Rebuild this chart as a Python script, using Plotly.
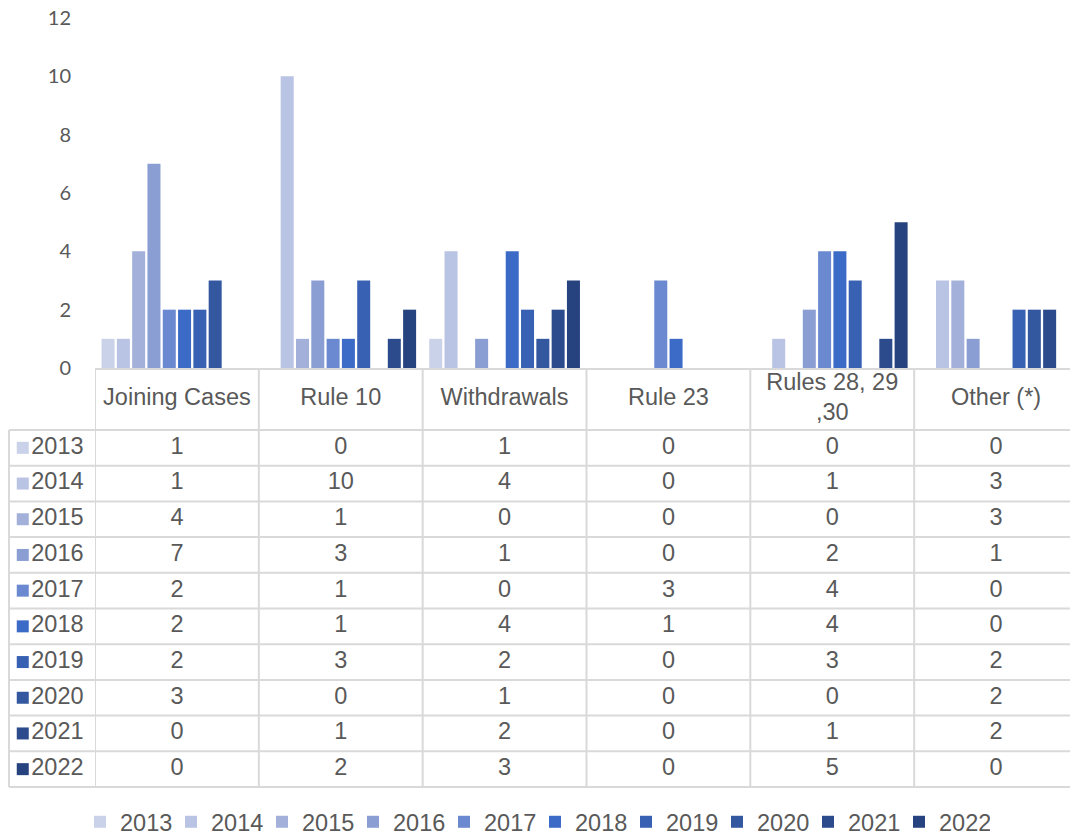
import plotly.graph_objects as go

categories = ["Joining Cases", "Rule 10", "Withdrawals", "Rule 23", "Rules 28, 29 ,30", "Other (*)"]
header_labels = ["Joining Cases", "Rule 10", "Withdrawals", "Rule 23", "Rules 28, 29<br>,30", "Other (*)"]
years = ["2013", "2014", "2015", "2016", "2017", "2018", "2019", "2020", "2021", "2022"]

v2013 = [1, 0, 1, 0, 0, 0]
v2014 = [1, 10, 4, 0, 1, 3]
v2015 = [4, 1, 0, 0, 0, 3]
v2016 = [7, 3, 1, 0, 2, 1]
v2017 = [2, 1, 0, 3, 4, 0]
v2018 = [2, 1, 4, 1, 4, 0]
v2019 = [2, 3, 2, 0, 3, 2]
v2020 = [3, 0, 1, 0, 0, 2]
v2021 = [0, 1, 2, 0, 1, 2]
v2022 = [0, 2, 3, 0, 5, 0]
series = [v2013, v2014, v2015, v2016, v2017, v2018, v2019, v2020, v2021, v2022]

colors = ["#cad2ea", "#b9c3e3", "#a3b1da", "#8a9ed4", "#6a89d0",
          "#3c6bc7", "#3961b3", "#34589f", "#2c4b8c", "#27437f"]

# the page body adds an 8px margin, so the figure is drawn 8px in from the corner
OFF = 8
W, H = 1078 - OFF, 837 - OFF
TXT = "#595959"
GRID = "#d9d9d9"
FONT = "Liberation Sans, Arial, sans-serif"
FS = 23.5

def py(p):
    return 1 - (p - OFF) / H

def px(p):
    return (p - OFF) / W

plot_top, plot_bot = 18, 368
tab_top, row0_top, row_h = 368, 430, 35.7
tab_bot_dom = 795
col_left, col_split = 9, 95

hdr_units = (row0_top - tab_top) / row_h
y2_top = -0.5 - hdr_units
y2_bot = (tab_bot_dom - row0_top) / row_h - 0.5
hdr_y = -0.5 - hdr_units / 2

fig = go.Figure()

for yr, vals, c in zip(years, series, colors):
    fig.add_trace(go.Bar(
        x=categories, y=vals, name=yr, marker=dict(color=c, line=dict(width=0)),
        xaxis="x", yaxis="y", showlegend=True,
    ))

fig.add_trace(go.Scatter(
    x=categories, y=[hdr_y] * len(categories), text=header_labels, mode="text",
    textposition="middle center", textfont=dict(size=FS, color=TXT, family=FONT),
    xaxis="x", yaxis="y2", showlegend=False, hoverinfo="skip",
))

for i, (yr, vals) in enumerate(zip(years, series)):
    fig.add_trace(go.Scatter(
        x=categories, y=[i] * len(categories), text=[str(v) for v in vals], mode="text",
        textposition="middle center", textfont=dict(size=FS, color=TXT, family=FONT),
        xaxis="x", yaxis="y2", showlegend=False, hoverinfo="skip",
    ))

fig.add_trace(go.Scatter(
    x=[0.16] * len(years), y=list(range(len(years))), text=years,
    mode="markers+text", textposition="middle right",
    marker=dict(symbol="square", size=12, color=colors, line=dict(width=0)),
    textfont=dict(size=FS, color=TXT, family=FONT),
    xaxis="x2", yaxis="y2", showlegend=False, hoverinfo="skip",
))

shapes = []
for i in range(len(years) + 1):
    shapes.append(dict(type="line", xref="paper", yref="y2",
                       x0=px(col_left), x1=1.0, y0=i - 0.5, y1=i - 0.5,
                       line=dict(color=GRID, width=2)))
for j in range(len(categories) + 1):
    shapes.append(dict(type="line", xref="x", yref="y2",
                       x0=j - 0.5, x1=j - 0.5, y0=y2_top, y1=len(years) - 0.5,
                       line=dict(color=GRID, width=2)))
shapes.append(dict(type="line", xref="paper", yref="y2",
                   x0=px(col_left), x1=px(col_left), y0=-0.5, y1=len(years) - 0.5,
                   line=dict(color=GRID, width=2)))

fig.update_layout(
    width=W, height=H,
    margin=dict(l=0, r=0, t=0, b=0, autoexpand=False),
    paper_bgcolor="white", plot_bgcolor="white",
    barmode="group", bargap=0.066, bargroupgap=0.15,
    font=dict(family=FONT, color=TXT),
    xaxis=dict(domain=[px(col_split), 1.0], anchor="y", range=[-0.5, 5.5],
               showticklabels=False, showgrid=False, zeroline=False, automargin=False,
               showline=True, linecolor=GRID, linewidth=2, ticks=""),
    yaxis=dict(domain=[py(plot_bot), py(plot_top)], range=[0, 12], dtick=2,
               showgrid=False, zeroline=False, showline=False, ticks="", automargin=False,
               tickfont=dict(family="Lato, Carlito, sans-serif", size=20, color=TXT),
               ticklabelstandoff=23, ticklabeloverflow="allow"),
    xaxis2=dict(domain=[px(col_left), px(col_split)], range=[0, 1], anchor="y2",
                visible=False, automargin=False),
    yaxis2=dict(domain=[py(tab_bot_dom), py(tab_top)], range=[y2_bot, y2_top],
                anchor="x2", visible=False, automargin=False),
    shapes=shapes,
    legend=dict(orientation="h", x=0.5 - 8 / W, xanchor="center", y=py(822), yanchor="middle",
                font=dict(size=FS, color=TXT, family=FONT),
                entrywidth=46, entrywidthmode="pixels", itemclick=False,
                bgcolor="rgba(0,0,0,0)"),
    showlegend=True,
)

fig.write_html("out.html")
